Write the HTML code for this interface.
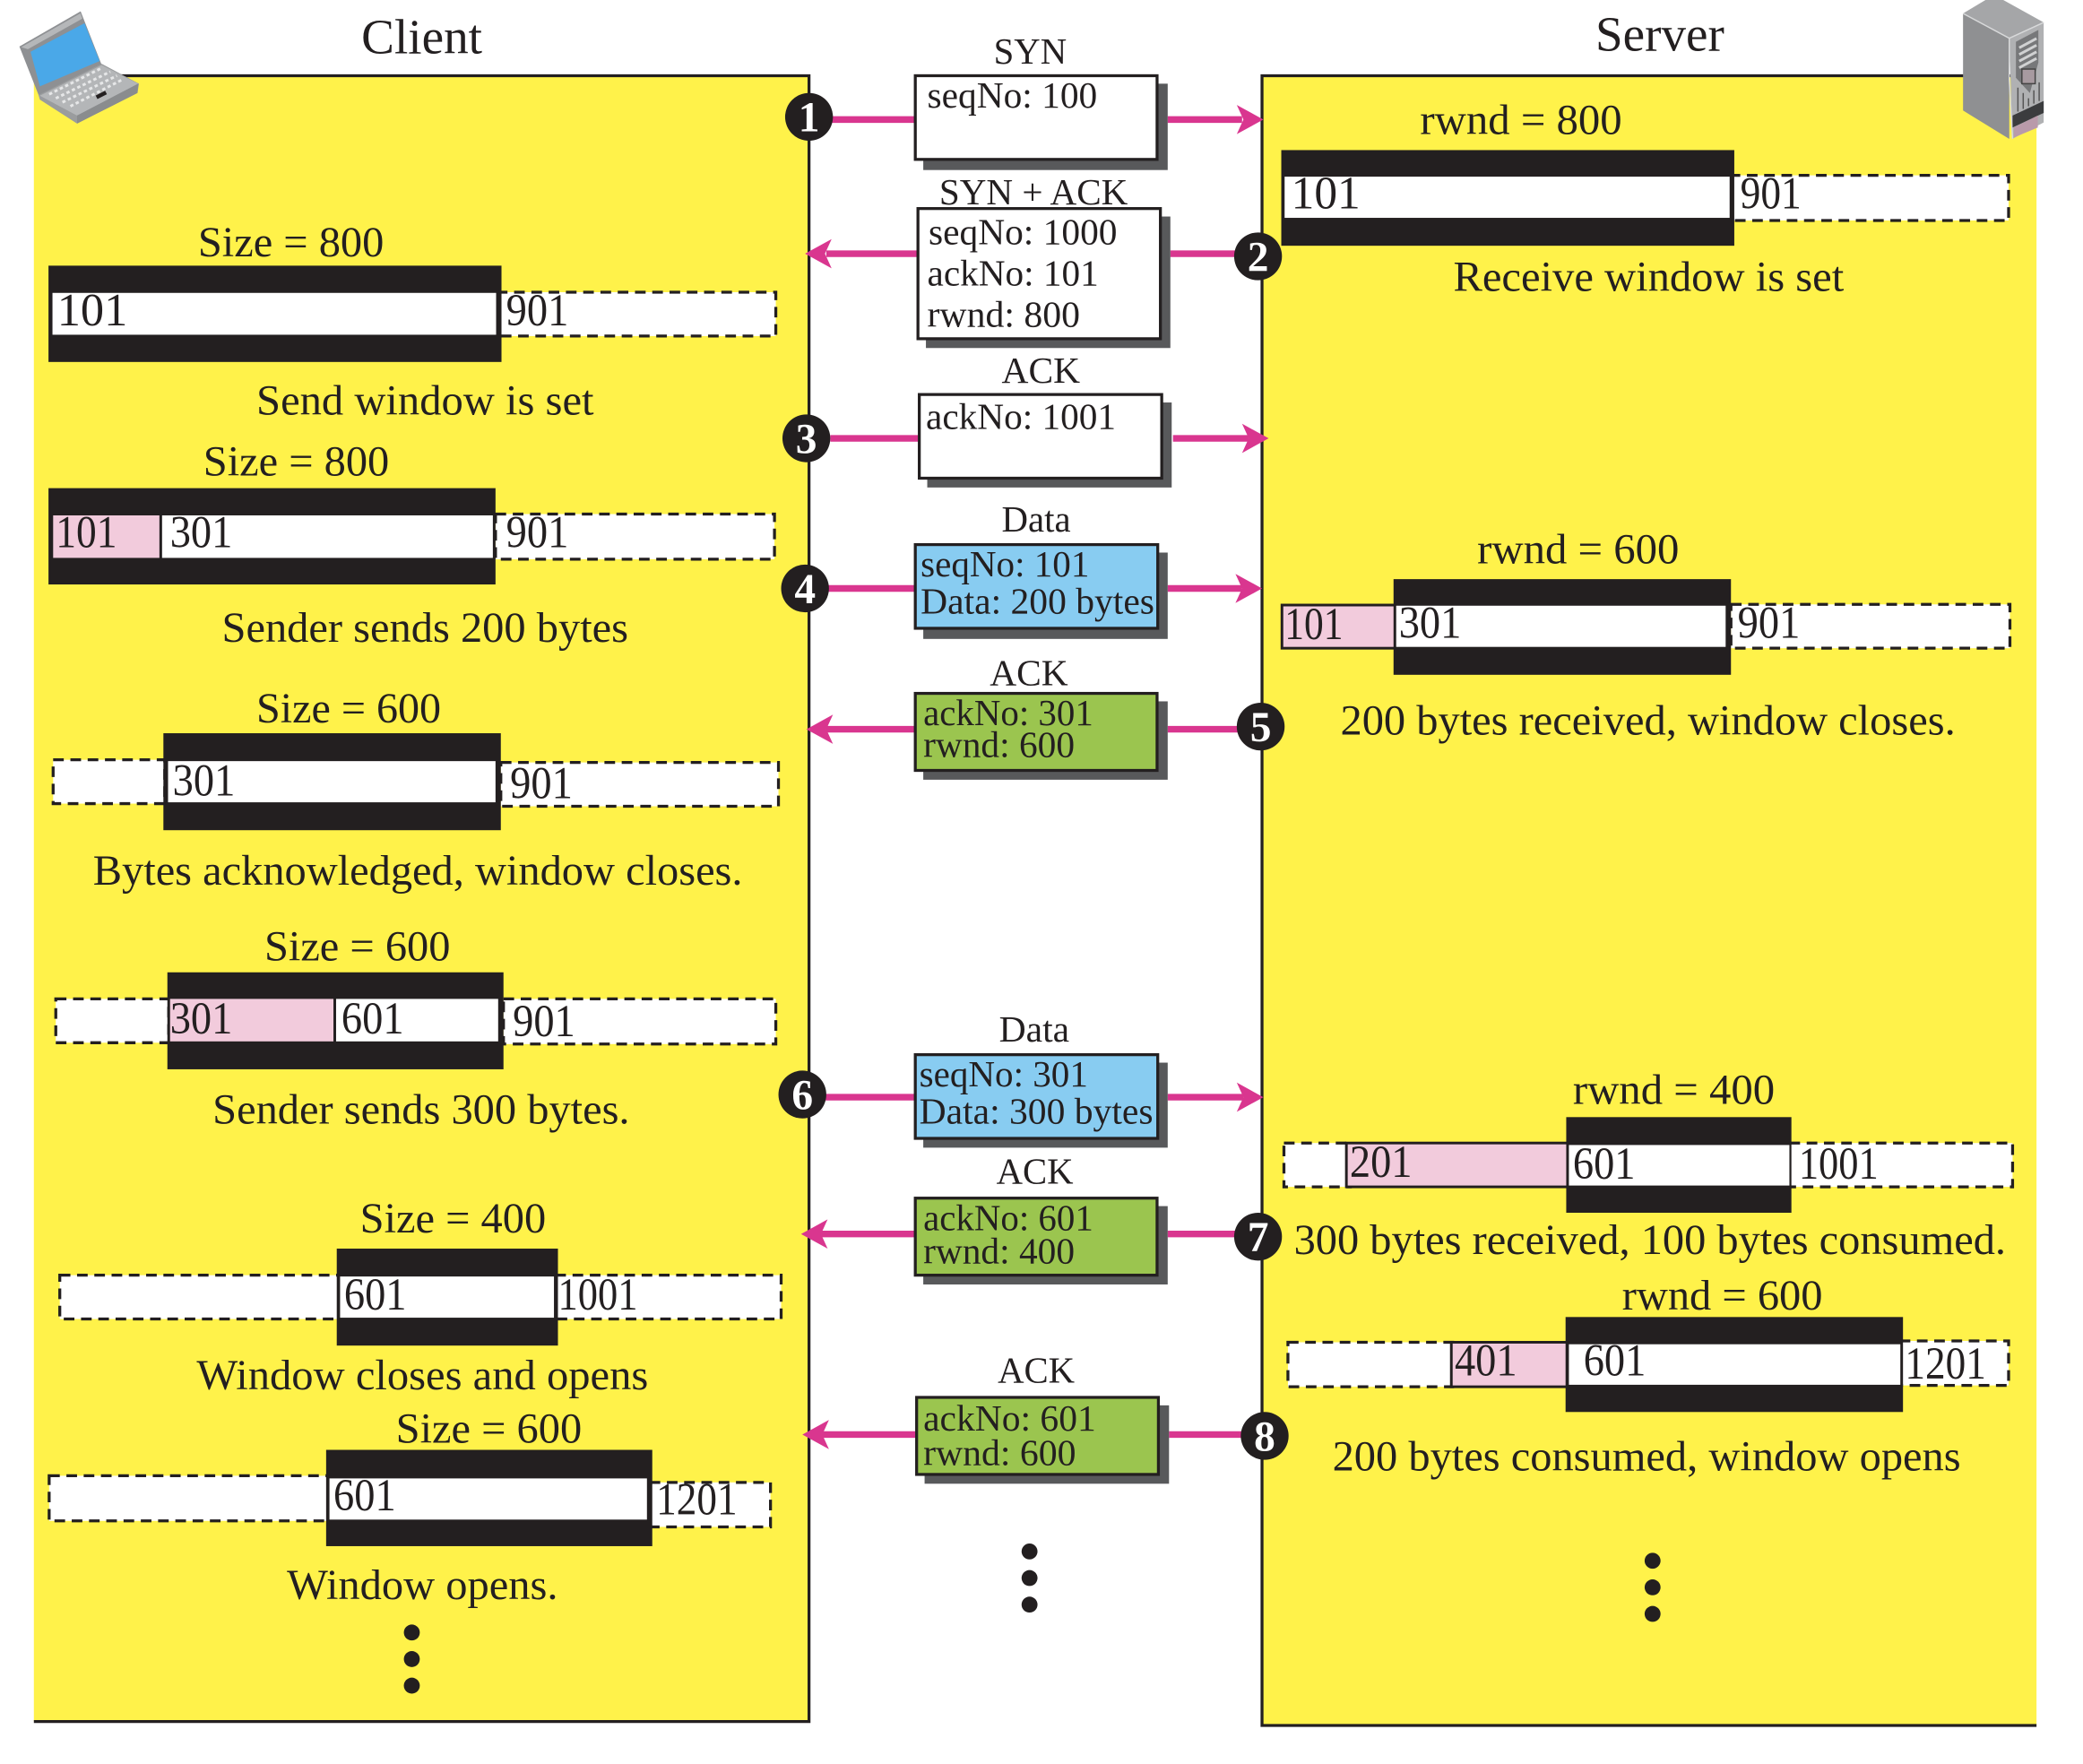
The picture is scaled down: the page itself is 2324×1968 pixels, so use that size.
<!DOCTYPE html>
<html><head><meta charset="utf-8"><style>
html,body{margin:0;padding:0;background:#fff}
svg{display:block}
text{font-family:"Liberation Serif",serif;fill:#231f20}
.t{font-size:32px}.m{font-size:28px}.n{font-size:34px}.b{font-size:35px}
.d{fill:#fff;stroke:#231f20;stroke-width:2.2;stroke-dasharray:8 5}
.k{fill:#231f20}.w{fill:#fff}.p{fill:#f2cbdc}
.ps{fill:#f2cbdc;stroke:#231f20;stroke-width:2}
.s{fill:#58595b}.bx{stroke:#231f20;stroke-width:2.2}
.a{stroke:#d9368f;stroke-width:5;fill:none}.h{fill:#d9368f}
.c{fill:#231f20}.cn{font-size:32px;font-weight:bold;fill:#fff;text-anchor:middle}
</style></head><body>
<svg xmlns="http://www.w3.org/2000/svg" width="2324" height="1968" viewBox="0 0 1568 1328" preserveAspectRatio="none">
<rect width="1568" height="1328" fill="#fff"/>
<!-- panels -->
<rect x="25.5" y="57" width="583.5" height="1239" fill="#fff24a"/>
<path d="M25.5 57H609V1296H25.5" fill="none" stroke="#231f20" stroke-width="2.2"/>
<rect x="950" y="57" width="583" height="1242" fill="#fff24a"/>
<path d="M1533 57H950V1299H1533" fill="none" stroke="#231f20" stroke-width="2.2"/>
<text class="t" x="272" y="40" style="font-size:37px" textLength="91" lengthAdjust="spacingAndGlyphs">Client</text>
<text class="t" x="1201" y="38" style="font-size:37px" textLength="97" lengthAdjust="spacingAndGlyphs">Server</text>

<!-- laptop -->
<polygon points="14.6,35 60.7,8.5 77,50 30,74" fill="#8e9093"/>
<polygon points="16,35.5 60.5,10 62,14 21,37" fill="#b5b7b9"/>
<polygon points="23,39 63.6,17.5 75,46 30,65" fill="#4aa8e8"/>
<polygon points="29,71.5 76.5,48 104.6,63 103.5,70 58,93 30,75" fill="#9a9c9e"/>
<polygon points="30,72 76.5,49 104,63 58,87" fill="#b4b6b8"/>
<polygon points="58,87 104,63 103.5,70 58,93" fill="#8a8c8e"/>
<g stroke="#e6e7e8" stroke-width="2" stroke-dasharray="2.5 2">
<path d="M37 71L77 51M42 74L83 54M47 77L88 57M53 80L92 60"/>
</g>
<rect x="72" y="70" width="8" height="3" fill="#231f20" transform="rotate(-27 76 71)"/>

<!-- server -->
<polygon points="1477.700,10.100 1494.600,0 1508,0 1538.400,16.900 1512.500,28.800" fill="#a5a6a8"/>
<polygon points="1477.700,10.100 1512.500,28.800 1512.500,104.600 1477.700,83.200" fill="#8f9092"/>
<polygon points="1512.500,28.800 1538.400,16.900 1538.400,92.200 1514.800,104.600" fill="#b0b1b3"/>
<path d="M1477.700 10.100L1512.500 28.800L1538.400 16.900M1512.500 28.800V60L1515 104.600" fill="none" stroke="#d8d9da" stroke-width="1"/>
<polygon points="1517.500,31.500 1534.400,22.500 1534.400,47 1528,70 1517.500,58.500" fill="#77787a"/>
<g stroke="#d0d1d2" stroke-width="2"><path d="M1520 36L1533 29M1520 41L1533 34M1520 46L1533 39M1520 51L1533 44"/></g>
<rect x="1522" y="52" width="10" height="11" fill="#a79aa0" stroke="#444" stroke-width="1"/>
<g stroke="#555" stroke-width="1"><path d="M1519 66V84M1523 70V82M1527 74V80M1531 68V78M1535 62V76"/></g>
<polygon points="1515,87 1538.400,76 1538.400,85 1515,96" fill="#3b3c3e"/>
<polygon points="1516,96 1534,87 1534,96 1516,103.500" fill="#b99aaa"/>

<!-- Client windows -->
<rect class="d" x="374" y="220" width="210" height="33"/>
<rect class="k" x="36.5" y="200" width="341" height="72.5"/>
<rect class="w" x="39.5" y="220.5" width="334" height="31.5"/>
<rect x="373.5" y="220" width="1.2" height="33" fill="#231f20"/>
<text class="b" x="43" y="245" textLength="53" lengthAdjust="spacingAndGlyphs">101</text>
<text class="n" x="381" y="245" textLength="47" lengthAdjust="spacingAndGlyphs">901</text>

<rect class="d" x="373" y="387" width="210" height="34"/>
<rect class="k" x="36.5" y="367.5" width="336.5" height="72.5"/>
<rect class="w" x="122" y="388" width="249" height="32"/>
<rect class="p" x="40" y="388" width="80" height="32"/>
<text class="n" x="42" y="412" textLength="46" lengthAdjust="spacingAndGlyphs">101</text>
<text class="n" x="128" y="412" textLength="47" lengthAdjust="spacingAndGlyphs">301</text>
<text class="n" x="381" y="412" textLength="47" lengthAdjust="spacingAndGlyphs">901</text>

<rect class="d" x="40" y="572" width="84" height="33"/>
<rect class="d" x="377" y="574" width="209" height="33"/>
<rect class="k" x="123" y="552" width="254" height="73"/>
<rect class="w" x="126.500" y="573" width="246.500" height="31"/>
<text class="n" x="130" y="599" textLength="47" lengthAdjust="spacingAndGlyphs">301</text>
<text class="n" x="384" y="601" textLength="47" lengthAdjust="spacingAndGlyphs">901</text>

<rect class="d" x="42" y="752" width="85" height="33"/>
<rect class="d" x="379" y="752" width="205" height="34"/>
<rect class="k" x="126" y="732" width="253" height="73"/>
<rect class="w" x="253" y="752" width="122" height="32"/>
<rect class="p" x="128" y="752" width="123" height="32"/>
<text class="n" x="128" y="778" textLength="47" lengthAdjust="spacingAndGlyphs">301</text>
<text class="n" x="257" y="778" textLength="47" lengthAdjust="spacingAndGlyphs">601</text>
<text class="n" x="386" y="780" textLength="47" lengthAdjust="spacingAndGlyphs">901</text>

<rect class="d" x="45" y="960" width="210" height="33"/>
<rect class="d" x="418" y="960" width="170" height="33"/>
<rect class="k" x="253.500" y="940" width="166.500" height="73"/>
<rect class="w" x="256" y="961" width="161" height="31"/>
<text class="n" x="259" y="986" textLength="47" lengthAdjust="spacingAndGlyphs">601</text>
<text class="n" x="420" y="986" textLength="60" lengthAdjust="spacingAndGlyphs">1001</text>

<rect class="d" x="37" y="1111" width="210" height="34"/>
<rect class="d" x="489" y="1116" width="91" height="33.500"/>
<rect class="k" x="245.500" y="1091.500" width="245.500" height="72.500"/>
<rect class="w" x="248" y="1113" width="239" height="31"/>
<text class="n" x="251" y="1137" textLength="47" lengthAdjust="spacingAndGlyphs">601</text>
<text class="n" x="494" y="1140" textLength="61" lengthAdjust="spacingAndGlyphs">1201</text>

<!-- Client labels -->
<text class="t" x="149" y="193" textLength="140" lengthAdjust="spacingAndGlyphs">Size = 800</text>
<text class="t" x="193" y="312" textLength="254" lengthAdjust="spacingAndGlyphs">Send window is set</text>
<text class="t" x="153" y="358" textLength="140" lengthAdjust="spacingAndGlyphs">Size = 800</text>
<text class="t" x="167" y="483" textLength="306" lengthAdjust="spacingAndGlyphs">Sender sends 200 bytes</text>
<text class="t" x="193" y="544" textLength="139" lengthAdjust="spacingAndGlyphs">Size = 600</text>
<text class="t" x="70" y="666" textLength="489" lengthAdjust="spacingAndGlyphs">Bytes acknowledged, window closes.</text>
<text class="t" x="199" y="723" textLength="140" lengthAdjust="spacingAndGlyphs">Size = 600</text>
<text class="t" x="160" y="846" textLength="314" lengthAdjust="spacingAndGlyphs">Sender sends 300 bytes.</text>
<text class="t" x="271" y="928" textLength="140" lengthAdjust="spacingAndGlyphs">Size = 400</text>
<text class="t" x="148" y="1046" textLength="340" lengthAdjust="spacingAndGlyphs">Window closes and opens</text>
<text class="t" x="298" y="1086" textLength="140" lengthAdjust="spacingAndGlyphs">Size = 600</text>
<text class="t" x="216" y="1204" textLength="204" lengthAdjust="spacingAndGlyphs">Window opens.</text>
<circle class="c" cx="310" cy="1229" r="6"/><circle class="c" cx="310" cy="1249" r="6"/><circle class="c" cx="310" cy="1269" r="6"/>

<!-- Server windows -->
<rect class="d" x="1302" y="132" width="210" height="34"/>
<rect class="k" x="964.500" y="113" width="341" height="72"/>
<rect class="w" x="967" y="133" width="335" height="31"/>
<text class="b" x="972" y="157" textLength="52" lengthAdjust="spacingAndGlyphs">101</text>
<text class="n" x="1310" y="157" textLength="46" lengthAdjust="spacingAndGlyphs">901</text>

<rect class="ps" x="965" y="455.500" width="86" height="32.500"/>
<rect class="d" x="1303" y="455" width="210" height="33"/>
<rect class="k" x="1049" y="436" width="254" height="72"/>
<rect class="w" x="1051" y="456" width="248" height="31"/>
<text class="n" x="967" y="481" textLength="44" lengthAdjust="spacingAndGlyphs">101</text>
<text class="n" x="1053" y="480" textLength="47" lengthAdjust="spacingAndGlyphs">301</text>
<text class="n" x="1308" y="480" textLength="47" lengthAdjust="spacingAndGlyphs">901</text>

<rect class="d" x="966.500" y="860.500" width="50" height="33"/>
<rect class="d" x="1347" y="860.500" width="168" height="33"/>
<rect class="ps" x="1013.500" y="860.500" width="168" height="33"/>
<rect class="k" x="1179" y="841" width="169.500" height="72"/>
<rect class="w" x="1181" y="862" width="166" height="30.500"/>
<text class="n" x="1016" y="886" textLength="47" lengthAdjust="spacingAndGlyphs">201</text>
<text class="n" x="1184" y="887.500" textLength="47" lengthAdjust="spacingAndGlyphs">601</text>
<text class="n" x="1354" y="887.500" textLength="60" lengthAdjust="spacingAndGlyphs">1001</text>

<rect class="d" x="969.500" y="1010.500" width="124" height="33.500"/>
<rect class="d" x="1430" y="1009.500" width="82" height="33.500"/>
<rect class="ps" x="1092.500" y="1010.500" width="88" height="33.500"/>
<rect class="k" x="1178.500" y="991.500" width="254" height="71.500"/>
<rect class="w" x="1181" y="1012" width="249.500" height="30.500"/>
<text class="n" x="1095" y="1035.500" textLength="47" lengthAdjust="spacingAndGlyphs">401</text>
<text class="n" x="1192" y="1035.500" textLength="47" lengthAdjust="spacingAndGlyphs">601</text>
<text class="n" x="1434" y="1038" textLength="61" lengthAdjust="spacingAndGlyphs">1201</text>

<!-- Server labels -->
<text class="t" x="1069" y="101" textLength="152" lengthAdjust="spacingAndGlyphs">rwnd = 800</text>
<text class="t" x="1094" y="219" textLength="294" lengthAdjust="spacingAndGlyphs">Receive window is set</text>
<text class="t" x="1112" y="424" textLength="152" lengthAdjust="spacingAndGlyphs">rwnd = 600</text>
<text class="t" x="1009" y="553" textLength="463" lengthAdjust="spacingAndGlyphs">200 bytes received, window closes.</text>
<text class="t" x="1184" y="831" textLength="152" lengthAdjust="spacingAndGlyphs">rwnd = 400</text>
<text class="t" x="974" y="944" textLength="536" lengthAdjust="spacingAndGlyphs">300 bytes received, 100 bytes consumed.</text>
<text class="t" x="1221" y="986" textLength="151" lengthAdjust="spacingAndGlyphs">rwnd = 600</text>
<text class="t" x="1003" y="1107" textLength="473" lengthAdjust="spacingAndGlyphs">200 bytes consumed, window opens</text>
<circle class="c" cx="1244" cy="1175" r="6"/><circle class="c" cx="1244" cy="1195" r="6"/><circle class="c" cx="1244" cy="1215" r="6"/>

<!-- Arrow lines -->
<path class="a" d="M625 90H689M879 90H935"/><polygon class="h" points="951,90 931,79 936,90 931,101"/>
<path class="a" d="M622 191H691M881 191H930"/><polygon class="h" points="606,191 626,180 621,191 626,202"/>
<path class="a" d="M625 330H692M883 330H940"/><polygon class="h" points="955,330 935,319 940,330 935,341"/>
<path class="a" d="M623 443H689M879 443H935"/><polygon class="h" points="950,443 930,432 935,443 930,454"/>
<path class="a" d="M622 549H689M879 549H932"/><polygon class="h" points="607,549 627,538 622,549 627,560"/>
<path class="a" d="M621 826H689M879 826H936"/><polygon class="h" points="951,826 931,815 936,826 931,837"/>
<path class="a" d="M618 929H689M879 929H930"/><polygon class="h" points="603,929 623,918 618,929 623,940"/>
<path class="a" d="M619 1080H690M880 1080H935"/><polygon class="h" points="604,1080 624,1069 619,1080 624,1091"/>

<!-- Numbered circles -->
<circle class="c" cx="609" cy="88" r="18"/><text class="cn" x="609" y="99">1</text>
<circle class="c" cx="947" cy="193" r="18"/><text class="cn" x="947" y="204">2</text>
<circle class="c" cx="607" cy="330" r="18"/><text class="cn" x="607" y="341">3</text>
<circle class="c" cx="606" cy="443" r="18"/><text class="cn" x="606" y="454">4</text>
<circle class="c" cx="949" cy="547" r="18"/><text class="cn" x="949" y="558">5</text>
<circle class="c" cx="604" cy="824" r="18"/><text class="cn" x="604" y="835">6</text>
<circle class="c" cx="947" cy="931" r="18"/><text class="cn" x="947" y="942">7</text>
<circle class="c" cx="952" cy="1081" r="18"/><text class="cn" x="952" y="1092">8</text>

<!-- Message boxes -->
<rect class="s" x="695" y="63" width="184" height="65"/>
<rect class="bx" x="689" y="57" width="182" height="63" fill="#fff"/>
<text class="m" x="748" y="48" textLength="55" lengthAdjust="spacingAndGlyphs">SYN</text>
<text class="m" x="698" y="81" textLength="128" lengthAdjust="spacingAndGlyphs">seqNo: 100</text>

<rect class="s" x="697" y="163" width="184" height="99"/>
<rect class="bx" x="691" y="157" width="182.500" height="98" fill="#fff"/>
<text class="m" x="707" y="154" textLength="142" lengthAdjust="spacingAndGlyphs">SYN + ACK</text>
<text class="m" x="699" y="184" textLength="142" lengthAdjust="spacingAndGlyphs">seqNo: 1000</text>
<text class="m" x="698" y="215" textLength="129" lengthAdjust="spacingAndGlyphs">ackNo: 101</text>
<text class="m" x="698" y="246" textLength="115" lengthAdjust="spacingAndGlyphs">rwnd: 800</text>

<rect class="s" x="698" y="303" width="184" height="64"/>
<rect class="bx" x="692" y="297" width="182.500" height="63" fill="#fff"/>
<text class="m" x="754" y="288" textLength="59" lengthAdjust="spacingAndGlyphs">ACK</text>
<text class="m" x="697" y="323" textLength="143" lengthAdjust="spacingAndGlyphs">ackNo: 1001</text>

<rect class="s" x="695" y="416" width="184" height="65"/>
<rect class="bx" x="689" y="410" width="182.500" height="63" fill="#88ccf1"/>
<text class="m" x="754" y="400" textLength="52" lengthAdjust="spacingAndGlyphs">Data</text>
<text class="m" x="693" y="434" textLength="127" lengthAdjust="spacingAndGlyphs">seqNo: 101</text>
<text class="m" x="693" y="462" textLength="176" lengthAdjust="spacingAndGlyphs">Data: 200 bytes</text>

<rect class="s" x="695" y="528" width="184" height="59"/>
<rect class="bx" x="689" y="522" width="182" height="58" fill="#9bc54f"/>
<text class="m" x="745" y="516" textLength="59" lengthAdjust="spacingAndGlyphs">ACK</text>
<text class="m" x="695" y="546" textLength="128" lengthAdjust="spacingAndGlyphs">ackNo: 301</text>
<text class="m" x="695" y="570" textLength="114" lengthAdjust="spacingAndGlyphs">rwnd: 600</text>

<rect class="s" x="695" y="800" width="184" height="64"/>
<rect class="bx" x="689" y="794" width="182.500" height="63" fill="#88ccf1"/>
<text class="m" x="752" y="784" textLength="53" lengthAdjust="spacingAndGlyphs">Data</text>
<text class="m" x="692" y="818" textLength="127" lengthAdjust="spacingAndGlyphs">seqNo: 301</text>
<text class="m" x="692" y="846" textLength="176" lengthAdjust="spacingAndGlyphs">Data: 300 bytes</text>

<rect class="s" x="695" y="908" width="184" height="59"/>
<rect class="bx" x="689" y="902" width="182" height="58" fill="#9bc54f"/>
<text class="m" x="750" y="891" textLength="58" lengthAdjust="spacingAndGlyphs">ACK</text>
<text class="m" x="695" y="926" textLength="128" lengthAdjust="spacingAndGlyphs">ackNo: 601</text>
<text class="m" x="695" y="951" textLength="114" lengthAdjust="spacingAndGlyphs">rwnd: 400</text>

<rect class="s" x="696" y="1058" width="184" height="59"/>
<rect class="bx" x="690" y="1052" width="182" height="58" fill="#9bc54f"/>
<text class="m" x="751" y="1041" textLength="58" lengthAdjust="spacingAndGlyphs">ACK</text>
<text class="m" x="695" y="1077" textLength="130" lengthAdjust="spacingAndGlyphs">ackNo: 601</text>
<text class="m" x="695" y="1103" textLength="115" lengthAdjust="spacingAndGlyphs">rwnd: 600</text>

<circle class="c" cx="775" cy="1168" r="6"/><circle class="c" cx="775" cy="1188" r="6"/><circle class="c" cx="775" cy="1208" r="6"/>
</svg>
</body></html>
